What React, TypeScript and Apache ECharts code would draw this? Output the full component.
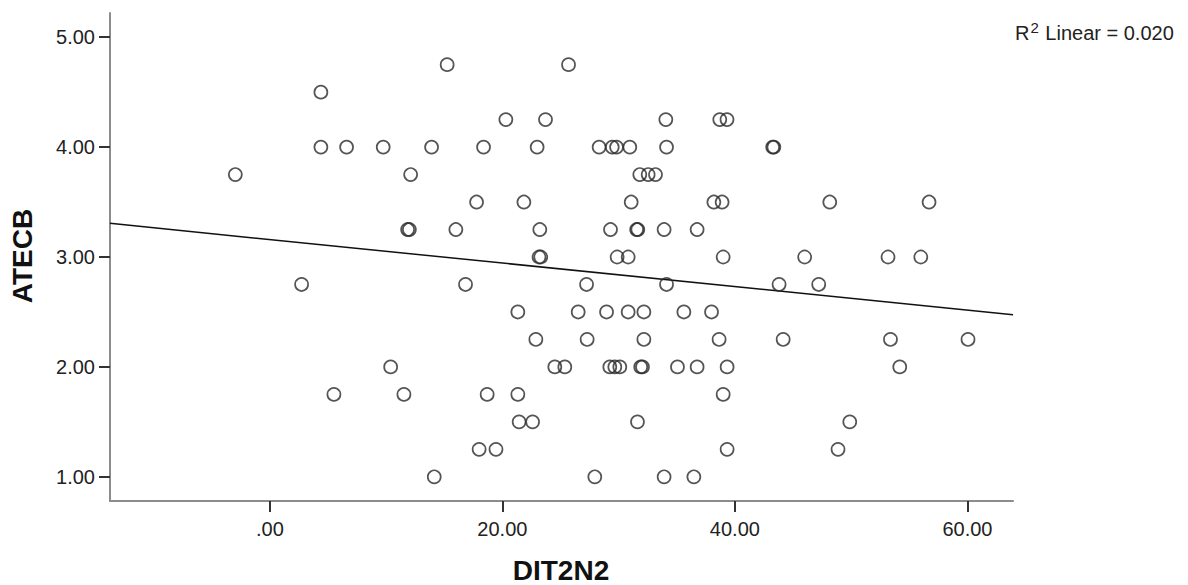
import React, { useEffect, useRef } from "react";
import * as echarts from "echarts";

// Observed points (x = DIT2N2, y = ATECB), grouped by ATECB level
const LEVELS: number[] = [4.75, 4.5, 4.25, 4.0, 3.75, 3.5, 3.25, 3.0, 2.75, 2.5, 2.25, 2.0, 1.75, 1.5, 1.25, 1.0];
const DIT_AT_LEVEL: number[][] = [
  [15.25, 25.69],
  [4.39],
  [20.3, 23.71, 34.06, 38.7, 39.32],
  [4.39, 6.6, 9.75, 13.91, 18.38, 22.99, 28.32, 29.45, 29.82, 30.96, 34.12, 43.25, 43.35],
  [-2.97, 12.11, 31.82, 32.54, 33.17],
  [17.78, 21.85, 31.08, 38.19, 38.9, 48.16, 56.7],
  [11.85, 12.0, 16.0, 23.22, 29.3, 31.55, 31.65, 33.91, 36.75],
  [23.15, 23.3, 29.87, 30.82, 38.99, 46.0, 53.17, 55.99],
  [2.73, 16.83, 27.24, 34.12, 43.8, 47.21],
  [21.33, 26.52, 28.96, 30.82, 32.17, 35.61, 37.99],
  [22.88, 27.29, 32.17, 38.64, 44.15, 53.38, 60.05],
  [10.39, 24.51, 25.37, 29.24, 29.67, 30.1, 31.9, 32.05, 35.06, 36.75, 39.33, 54.18],
  [5.51, 11.53, 18.69, 21.33, 38.99],
  [21.44, 22.6, 31.62, 49.88],
  [18.0, 19.45, 39.33, 48.87],
  [14.14, 27.95, 33.91, 36.47],
];

// Fit line evaluated at the axis ends
const X_MIN = -13.75;
const X_MAX = 63.92;
const Y_MIN = 0.78;
const Y_MAX = 5.22;
const FIT_START: number[] = [X_MIN, 3.306];
const FIT_END: number[] = [X_MAX, 2.475];

const X_TICKS: number[] = [0, 20, 40, 60];
const Y_TICKS: number[] = [1, 2, 3, 4, 5];
const R2_TEXT = "0.020";

export default function App() {
  const ref = useRef<HTMLDivElement>(null);
  useEffect(() => {
    document.body.style.margin = "0";
    if (!ref.current) return;
    const chart = echarts.init(ref.current, null, { renderer: "svg" });
    const points: number[][] = [];
    LEVELS.forEach((y, i) => DIT_AT_LEVEL[i].forEach((x) => points.push([x, y])));
    const font = "'Liberation Sans', Arial, sans-serif";
    chart.setOption({
      animation: false,
      backgroundColor: "#ffffff",
      grid: { left: 110, top: 13, width: 903, height: 488, containLabel: false },
      xAxis: {
        type: "value",
        min: X_MIN,
        max: X_MAX,
        axisLine: { show: true, onZero: false, lineStyle: { color: "#8c8c8c", width: 2 } },
        axisTick: { show: true, length: 11, customValues: X_TICKS, lineStyle: { color: "#333", width: 2 } },
        axisLabel: {
          customValues: X_TICKS,
          formatter: (v: number) => (v === 0 ? ".00" : v.toFixed(2)),
          color: "#222",
          fontSize: 20,
          fontFamily: font,
          margin: 18,
        },
        splitLine: { show: false },
      },
      yAxis: {
        type: "value",
        min: Y_MIN,
        max: Y_MAX,
        axisLine: { show: true, onZero: false, lineStyle: { color: "#8c8c8c", width: 2 } },
        axisTick: { show: true, length: 11, customValues: Y_TICKS, lineStyle: { color: "#333", width: 2 } },
        axisLabel: {
          customValues: Y_TICKS,
          formatter: (v: number) => v.toFixed(2),
          color: "#222",
          fontSize: 20,
          fontFamily: font,
          margin: 15,
        },
        splitLine: { show: false },
      },
      series: [
        {
          type: "line",
          data: [FIT_START, FIT_END],
          showSymbol: false,
          symbol: "none",
          lineStyle: { color: "#111", width: 1.5 },
          silent: true,
          z: 1,
        },
        {
          type: "scatter",
          data: points,
          symbol: "circle",
          symbolSize: 13,
          itemStyle: { color: "rgba(0,0,0,0)", borderColor: "#2a2a2a", borderWidth: 1.7 },
          z: 2,
        },
      ],
      graphic: [
        {
          type: "text",
          x: 22,
          y: 256,
          rotation: Math.PI / 2,
          style: {
            text: "ATECB",
            font: `bold 28px ${font}`,
            fill: "#111",
            align: "center",
            verticalAlign: "middle",
          },
        },
        {
          type: "text",
          x: 561,
          y: 570,
          style: {
            text: "DIT2N2",
            font: `bold 28px ${font}`,
            fill: "#111",
            align: "center",
            verticalAlign: "middle",
          },
        },
        {
          type: "text",
          x: 1015,
          y: 33,
          style: {
            text: "{r|R}{s|2}{r| Linear = " + R2_TEXT + "}",
            align: "left",
            verticalAlign: "middle",
            rich: {
              r: { fontSize: 20, fontFamily: font, fill: "#222", color: "#222", verticalAlign: "middle" },
              s: { fontSize: 15, fontFamily: font, fill: "#222", color: "#222", verticalAlign: "top", padding: [0, 1, 11, 1] },
            },
          },
        },
      ],
    });
    return () => chart.dispose();
  }, []);
  return <div ref={ref} style={{ width: 1188, height: 585 }} />;
}
